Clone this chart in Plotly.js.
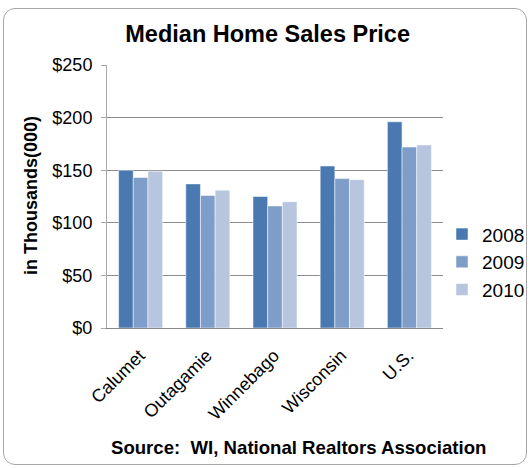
<!DOCTYPE html>
<html><head><meta charset="utf-8">
<script src="https://cdn.plot.ly/plotly-3.0.1.min.js"></script>
<style>
body{margin:0;background:#fff;}
#frame{position:absolute;left:3px;top:8px;width:522px;height:455px;border:1px solid #a6a6a6;border-radius:12px;pointer-events:none;}
#chart{position:absolute;left:0;top:0;width:530px;height:468px;}
</style></head>
<body>
<div id="chart"></div>
<div id="frame"></div>
<script>
const categories = ["Calumet","Outagamie","Winnebago","Wisconsin","U.S."];
const years = ["2008","2009","2010"];
const v2008 = [150,137,125,154,196];
const v2009 = [143,126,116,142,172];
const v2010 = [149,131,120,141,174];
const colors = ["#4A79B1","#7F9DC9","#B7C5DF"];
const series = [v2008, v2009, v2010];
const tickVals = [0,50,100,150,200,250];
const tickText = ["$0","$50","$100","$150","$200","$250"];

const traces = series.map((vals,i)=>({
  type:'bar', x:categories, y:vals, name:years[i], legendgroup:'g'+i,
  marker:{color:colors[i], line:{color:'#ffffff', width:0.5}}
}));

const layout = {
  width:530, height:468,
  margin:{l:107, r:87, t:65, b:140, autoexpand:false},
  paper_bgcolor:'rgba(0,0,0,0)', plot_bgcolor:'#fff',
  font:{family:'Liberation Sans, Arial, sans-serif', color:'#000', size:18},
  barmode:'group', bargap:0.345, bargroupgap:0,
  showlegend:true,
  legend:{xref:'container', x:1.0, xanchor:'right', y:0.25, yanchor:'middle', font:{size:19}, itemwidth:30, tracegroupgap:0, bgcolor:'rgba(0,0,0,0)'},
  title:{text:'<b>Median Home Sales Price</b>', font:{size:23.5}, x:0.505, xanchor:'center', y:0.927, yanchor:'middle'},
  xaxis:{showline:true, linecolor:'#888', tickangle:-45, ticks:'', tickfont:{size:18}, showgrid:false, automargin:false,
         ticklabelstandoff:9, ticklabelshift:-1},
  yaxis:{range:[0,250], tickvals:tickVals, ticktext:tickText, showline:true, linecolor:'#aaa',
         ticks:'outside', ticklen:5, tickcolor:'#aaa', gridcolor:'#8c8c8c', gridwidth:1,
         ticklabelstandoff:5,
         tickfont:{size:18}, zeroline:false, automargin:false},
  annotations:[
    {text:'<b>in Thousands(000)</b>', textangle:-90, xref:'paper', yref:'paper', x:-0.226, y:0.502, xanchor:'center', yanchor:'middle', showarrow:false, font:{size:18}},
    {text:'<b>Source:  WI, National Realtors Association</b>', xref:'paper', yref:'paper', x:0.57, y:-0.455, xanchor:'center', yanchor:'middle', showarrow:false, font:{size:18.6}}
  ]
};
Plotly.newPlot('chart', traces, layout, {displayModeBar:false, staticPlot:true});
</script>
</body></html>
